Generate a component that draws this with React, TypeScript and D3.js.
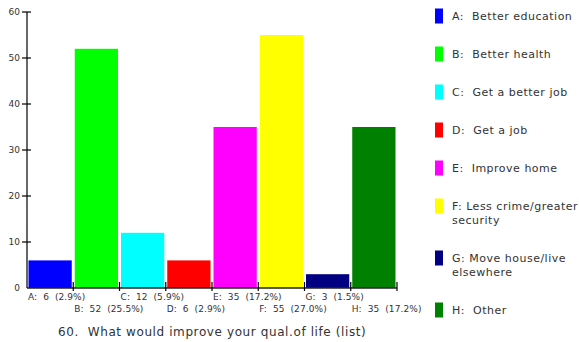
import React from "react";
import * as d3 from "d3";

const categories = ["A", "B", "C", "D", "E", "F", "G", "H"];
const values = [6, 52, 12, 6, 35, 55, 3, 35];
const percents = ["2.9%", "25.5%", "5.9%", "2.9%", "17.2%", "27.0%", "1.5%", "17.2%"];
const legendLabels = [
  ["A:  Better education"],
  ["B:  Better health"],
  ["C:  Get a better job"],
  ["D:  Get a job"],
  ["E:  Improve home"],
  ["F: Less crime/greater", "security"],
  ["G: Move house/live", "elsewhere"],
  ["H:  Other"],
];
const colors = ["#0000ff", "#00ff00", "#00ffff", "#ff0000", "#ff00ff", "#ffff00", "#000080", "#008000"];
const yTicks = [0, 10, 20, 30, 40, 50, 60];
const title = "60.  What would improve your qual.of life (list)";

const FONT = "'DejaVu Sans', Verdana, sans-serif";

export default function App() {
  const x = d3.scaleBand<string>().domain(categories).range([27, 397]).padding(0);
  const y = d3.scaleLinear().domain([0, 60]).range([288, 12]);
  const bw = x.bandwidth();

  const legendY: number[] = [];
  let cy = 16;
  legendLabels.forEach((l) => {
    legendY.push(cy);
    cy += 38 + (l.length - 1) * 14;
  });

  return (
    <svg
      width={579}
      height={342}
      style={{ position: "absolute", left: 0, top: 0, background: "#fff" }}
      fontFamily={FONT}
    >
      {categories.map((c, i) => (
        <rect
          key={c}
          x={(x(c) as number) + 1.5}
          y={y(values[i])}
          width={bw - 3}
          height={y(0) - y(values[i])}
          fill={colors[i]}
        />
      ))}
      <line x1={27} x2={27} y1={12} y2={288} stroke="#000" strokeWidth={1.2} />
      {yTicks.map((t) => (
        <g key={t}>
          {t > 0 && <line x1={22} x2={31} y1={y(t)} y2={y(t)} stroke="#000" strokeWidth={1.2} />}
          <text x={20} y={y(t)} dy="0.35em" textAnchor="end" fontSize={9} fill="#333">
            {t}
          </text>
        </g>
      ))}
      <line x1={27} x2={397} y1={288} y2={288} stroke="#222" strokeWidth={1.5} />
      {categories.slice(1).concat(["_end"]).map((c, i) => {
        const xx = c === "_end" ? 397 : (x(c) as number);
        return <line key={i} x1={xx} x2={xx} y1={282} y2={291} stroke="#000" strokeWidth={1.2} />;
      })}
      {categories.map((c, i) => (
        <text
          key={c}
          x={(x(c) as number) + 1}
          y={i % 2 === 0 ? 300 : 312}
          fontSize={9}
          letterSpacing={0.1}
          fill="#333"
          style={{ whiteSpace: "pre" }}
        >
          {`${c}:  ${values[i]}  (${percents[i]})`}
        </text>
      ))}
      {legendLabels.map((lines, i) => (
        <g key={i}>
          <rect x={435} y={legendY[i] - 7.5} width={8} height={15} fill={colors[i]} />
          {lines.map((ln, j) => (
            <text
              key={j}
              x={452}
              y={legendY[i] + j * 14}
              dy="0.35em"
              fontSize={11}
              letterSpacing={0.5}
              fill="#333"
              style={{ whiteSpace: "pre" }}
            >
              {ln}
            </text>
          ))}
        </g>
      ))}
      <text x={58} y={336} fontSize={12} letterSpacing={0.6} fill="#333" style={{ whiteSpace: "pre" }}>
        {title}
      </text>
    </svg>
  );
}
